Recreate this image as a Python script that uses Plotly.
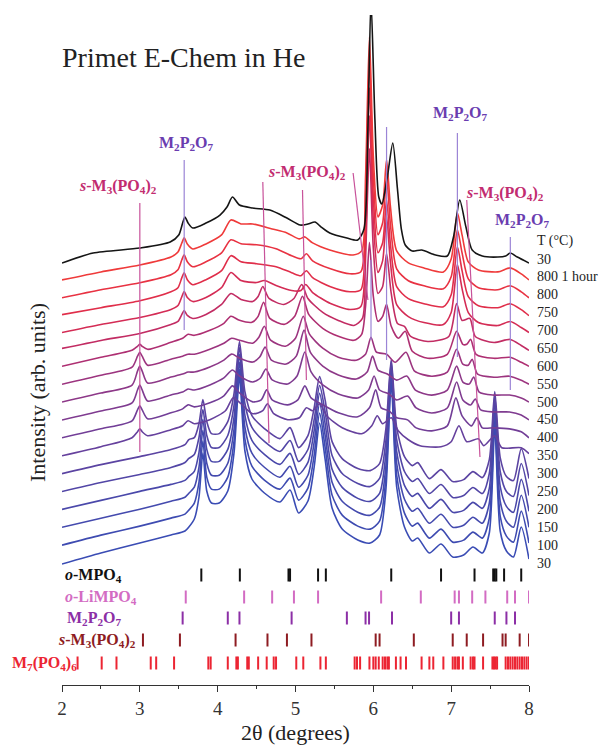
import plotly.graph_objects as go

# ---------------- data ----------------
temps = ["30", "100", "150", "200", "250", "300", "350", "400", "450", "500",
         "550", "600", "650", "700", "750", "800", "800 1 hour", "30"]

# each pattern: (2theta, intensity above its own baseline, arb. units)
p030 = [(2.00,-1),(2.50,10),(3.00,20),(3.40,28),(3.58,32),(3.63,36),(3.70,44),(3.76,66),(3.81,110),(3.86,72),(3.92,60),(4.02,60),(4.13,72),(4.21,110),(4.28,186),(4.35,112),(4.44,84),(4.60,70),(4.80,61),(4.93,73),(5.04,50),(5.16,62),(5.24,96),(5.31,140),(5.38,104),(5.47,55),(5.60,34),(5.80,23),(5.96,20),(6.08,28),(6.16,72),(6.23,180),(6.30,76),(6.40,36),(6.50,22),(6.57,25),(6.72,10),(6.87,19),(7.02,6),(7.16,8),(7.28,16),(7.40,10),(7.49,30),(7.56,135),(7.63,32),(7.71,12),(7.80,6),(7.90,36),(8.00,4)]
p100 = [(2.00,0),(2.50,10),(3.00,19),(3.40,27),(3.58,31),(3.63,35),(3.70,42),(3.76,63),(3.81,104),(3.86,68),(3.92,56),(4.02,56),(4.13,68),(4.21,104),(4.28,176),(4.35,106),(4.44,79),(4.60,65),(4.80,56),(4.93,67),(5.04,45),(5.16,57),(5.24,90),(5.31,132),(5.38,98),(5.47,50),(5.60,30),(5.80,19),(5.96,16),(6.08,24),(6.16,66),(6.23,168),(6.30,70),(6.40,32),(6.50,19),(6.57,22),(6.72,7),(6.87,16),(7.02,3),(7.16,5),(7.28,13),(7.40,7),(7.49,27),(7.56,126),(7.63,29),(7.71,9),(7.80,3),(7.90,34),(8.00,2)]
p150 = [(2.00,0),(2.50,9),(3.00,18),(3.40,26),(3.58,30),(3.63,34),(3.70,40),(3.76,60),(3.81,97),(3.86,64),(3.92,52),(4.02,52),(4.13,64),(4.21,98),(4.28,165),(4.35,100),(4.44,74),(4.60,60),(4.80,50),(4.93,61),(5.04,40),(5.16,52),(5.24,85),(5.31,124),(5.38,92),(5.47,45),(5.60,26),(5.80,15),(5.96,12),(6.08,20),(6.16,60),(6.23,156),(6.30,64),(6.40,28),(6.50,16),(6.57,19),(6.72,4),(6.87,13),(7.02,0),(7.16,2),(7.28,10),(7.40,4),(7.49,24),(7.56,117),(7.63,26),(7.71,6),(7.80,0),(7.90,32),(8.00,0)]
p200 = [(2.00,0),(2.50,9),(3.00,18),(3.40,25),(3.58,29),(3.63,33),(3.70,38),(3.76,57),(3.81,90),(3.86,60),(3.92,48),(4.02,48),(4.13,60),(4.21,92),(4.28,155),(4.35,94),(4.44,69),(4.60,55),(4.80,45),(4.93,56),(5.04,35),(5.16,47),(5.24,79),(5.31,116),(5.38,86),(5.47,40),(5.60,22),(5.80,11),(5.96,8),(6.08,16),(6.16,55),(6.23,144),(6.30,58),(6.40,24),(6.50,13),(6.57,16),(6.72,1),(6.87,10),(7.02,-3),(7.16,-1),(7.28,7),(7.40,1),(7.49,21),(7.56,108),(7.63,23),(7.71,3),(7.80,-3),(7.90,30),(8.00,-2)]
p250 = [(2.00,0),(2.50,9),(3.00,17),(3.40,24),(3.58,29),(3.63,33),(3.70,37),(3.76,54),(3.81,82),(3.86,56),(3.92,44),(4.02,44),(4.13,56),(4.21,86),(4.28,144),(4.35,88),(4.44,64),(4.60,50),(4.80,40),(4.93,51),(5.04,30),(5.16,42),(5.24,72),(5.31,106),(5.38,80),(5.47,36),(5.60,18),(5.80,8),(5.96,5),(6.08,13),(6.16,50),(6.23,130),(6.30,52),(6.40,20),(6.50,10),(6.57,13),(6.72,-2),(6.87,7),(7.02,-6),(7.16,-4),(7.28,4),(7.40,-2),(7.49,18),(7.56,96),(7.63,20),(7.71,0),(7.80,-5),(7.90,28),(8.00,-4)]
p300 = [(2.00,0),(2.50,9),(3.00,17),(3.40,24),(3.58,29),(3.63,34),(3.70,36),(3.76,50),(3.81,74),(3.86,52),(3.92,40),(4.02,40),(4.13,52),(4.21,80),(4.28,132),(4.35,82),(4.44,58),(4.60,45),(4.80,35),(4.93,46),(5.04,26),(5.16,38),(5.24,66),(5.31,97),(5.38,74),(5.47,32),(5.60,15),(5.80,5),(5.96,3),(6.08,10),(6.16,44),(6.23,114),(6.30,46),(6.40,17),(6.50,8),(6.57,11),(6.72,-5),(6.87,4),(7.02,-8),(7.16,-6),(7.28,2),(7.40,-4),(7.49,14),(7.56,82),(7.63,16),(7.71,-3),(7.80,-7),(7.90,25),(8.00,-5)]
p350 = [(2.00,0),(2.50,9),(2.90,18),(2.97,24),(3.00,27),(3.03,24),(3.10,20),(3.40,26),(3.55,30),(3.62,35),(3.70,32),(3.90,36),(4.10,45),(4.20,58),(4.30,52),(4.45,42),(4.58,45),(4.64,52),(4.72,42),(4.90,36),(5.05,38),(5.14,48),(5.22,45),(5.31,52),(5.40,40),(5.60,28),(5.85,22),(5.98,30),(6.05,40),(6.12,32),(6.23,38),(6.32,25),(6.45,16),(6.60,10),(6.87,9),(7.00,14),(7.10,30),(7.20,14),(7.35,17),(7.42,10),(7.56,20),(7.65,8),(7.90,8),(8.00,2)]
p400 = [(2.00,0),(2.50,9),(2.90,17),(2.97,28),(3.00,32),(3.03,28),(3.10,19),(3.40,25),(3.55,29),(3.62,33),(3.70,31),(3.90,35),(4.08,42),(4.19,52),(4.28,45),(4.45,36),(4.56,38),(4.63,48),(4.70,38),(4.90,33),(5.03,38),(5.12,52),(5.20,40),(5.35,33),(5.55,25),(5.80,21),(5.95,30),(6.03,48),(6.10,30),(6.20,27),(6.30,20),(6.44,18),(6.55,10),(6.75,7),(6.95,12),(7.06,40),(7.14,22),(7.26,12),(7.33,20),(7.40,10),(7.55,10),(7.75,9),(7.90,6),(8.00,0)]
p450 = [(2.00,0),(2.50,9),(2.90,17),(2.97,30),(3.00,35),(3.03,30),(3.10,19),(3.40,25),(3.55,28),(3.62,31),(3.70,30),(3.90,35),(4.08,42),(4.19,50),(4.28,44),(4.45,38),(4.55,42),(4.62,51),(4.70,40),(4.90,36),(5.02,44),(5.12,68),(5.20,48),(5.35,35),(5.55,26),(5.80,22),(5.94,30),(6.01,44),(6.08,30),(6.20,26),(6.30,20),(6.44,24),(6.55,12),(6.75,7),(6.95,12),(7.07,38),(7.15,20),(7.25,15),(7.31,21),(7.38,10),(7.55,8),(7.75,8),(7.90,5),(8.00,0)]
p500 = [(2.00,0),(2.50,9),(2.90,17),(2.97,31),(3.00,36),(3.03,31),(3.10,19),(3.40,25),(3.55,28),(3.62,30),(3.70,30),(3.90,35),(4.08,42),(4.18,48),(4.28,44),(4.45,40),(4.54,45),(4.61,55),(4.69,42),(4.88,38),(5.01,46),(5.11,72),(5.19,50),(5.35,36),(5.55,27),(5.78,23),(5.92,30),(5.99,46),(6.06,32),(6.18,28),(6.30,22),(6.43,26),(6.54,12),(6.75,7),(6.95,12),(7.07,36),(7.15,20),(7.23,18),(7.29,25),(7.36,10),(7.55,7),(7.75,7),(7.90,4),(8.00,0)]
p550 = [(2.00,0),(2.50,9),(2.90,17),(2.97,28),(3.00,32),(3.03,28),(3.10,19),(3.40,25),(3.55,28),(3.62,30),(3.70,30),(3.90,35),(4.08,41),(4.18,46),(4.28,44),(4.45,41),(4.53,47),(4.60,58),(4.68,44),(4.87,38),(5.00,46),(5.10,68),(5.18,50),(5.35,36),(5.55,27),(5.78,24),(5.90,30),(5.97,47),(6.04,32),(6.17,30),(6.28,22),(6.42,32),(6.53,13),(6.75,8),(6.95,12),(7.07,35),(7.15,20),(7.22,19),(7.27,25),(7.34,10),(7.55,7),(7.75,8),(7.90,4),(8.00,0)]
p600 = [(2.00,0),(2.50,9),(2.90,16),(2.97,20),(3.00,22),(3.03,20),(3.10,17),(3.40,24),(3.55,28),(3.62,32),(3.70,31),(3.90,36),(4.08,43),(4.17,50),(4.28,46),(4.44,44),(4.52,50),(4.59,64),(4.67,48),(4.86,42),(4.99,50),(5.09,70),(5.17,52),(5.35,38),(5.55,30),(5.75,26),(5.85,32),(5.90,60),(5.95,124),(6.00,70),(6.06,45),(6.12,50),(6.17,62),(6.23,40),(6.32,28),(6.41,35),(6.50,15),(6.70,8),(6.95,12),(7.07,35),(7.15,22),(7.20,22),(7.25,27),(7.32,12),(7.55,8),(7.76,9),(7.90,4),(8.00,0)]
p650 = [(2.00,0),(2.50,8),(3.00,15),(3.40,24),(3.49,27),(3.54,34),(3.57,38),(3.61,33),(3.68,30),(3.85,34),(4.05,44),(4.17,55),(4.30,49),(4.45,47),(4.52,52),(4.58,62),(4.66,50),(4.85,44),(4.98,50),(5.08,64),(5.16,50),(5.35,36),(5.55,28),(5.75,23),(5.86,30),(5.90,90),(5.95,200),(6.00,100),(6.06,55),(6.12,62),(6.17,95),(6.23,55),(6.31,25),(6.40,22),(6.48,12),(6.70,7),(6.97,12),(7.07,45),(7.14,28),(7.24,30),(7.31,12),(7.55,6),(7.76,9),(7.90,3),(8.00,-2)]
p700 = [(2.00,-2),(2.50,6),(3.00,13),(3.40,21),(3.49,25),(3.54,34),(3.57,39),(3.61,33),(3.68,29),(3.85,33),(4.05,43),(4.17,58),(4.30,50),(4.50,48),(4.60,50),(4.75,45),(4.95,40),(5.07,40),(5.13,46),(5.22,38),(5.45,27),(5.70,21),(5.84,24),(5.90,90),(5.95,215),(6.00,110),(6.06,58),(6.12,70),(6.17,114),(6.22,68),(6.30,26),(6.45,14),(6.65,8),(6.90,6),(7.00,18),(7.08,66),(7.14,42),(7.22,18),(7.35,8),(7.60,5),(7.76,9),(7.90,3),(8.00,-2)]
p750 = [(2.00,-2),(2.50,5),(3.00,12),(3.40,21),(3.49,25),(3.54,35),(3.57,40),(3.61,33),(3.68,28),(3.85,33),(4.05,42),(4.17,57),(4.30,51),(4.50,49),(4.75,46),(4.95,40),(5.07,37),(5.14,42),(5.22,35),(5.45,26),(5.70,21),(5.84,23),(5.90,95),(5.95,225),(6.00,115),(6.06,60),(6.12,70),(6.17,113),(6.22,68),(6.30,26),(6.45,14),(6.65,9),(6.90,6),(7.00,18),(7.08,66),(7.14,42),(7.22,16),(7.35,7),(7.60,5),(7.76,9),(7.90,3),(8.00,-3)]
p800 = [(2.00,-3),(2.50,5),(3.00,12),(3.40,20),(3.49,25),(3.54,35),(3.57,40),(3.61,33),(3.68,28),(3.85,33),(4.05,42),(4.17,55),(4.30,51),(4.50,50),(4.75,46),(4.95,39),(5.07,36),(5.14,41),(5.22,34),(5.45,26),(5.70,21),(5.84,23),(5.90,100),(5.95,235),(6.00,118),(6.06,60),(6.12,72),(6.17,118),(6.22,70),(6.30,26),(6.45,14),(6.65,9),(6.90,6),(7.00,18),(7.08,65),(7.14,42),(7.22,16),(7.35,7),(7.60,5),(7.76,9),(7.90,3),(8.00,-3)]
p800h = [(2.00,-3),(2.50,5),(3.00,12),(3.40,20),(3.49,25),(3.54,34),(3.57,39),(3.61,33),(3.68,28),(3.85,33),(4.05,42),(4.17,57),(4.30,53),(4.45,53),(4.70,48),(4.89,44),(5.05,38),(5.12,40),(5.22,34),(5.44,27),(5.74,22),(5.85,26),(5.90,100),(5.95,240),(6.00,120),(6.06,60),(6.12,72),(6.17,117),(6.22,70),(6.30,26),(6.45,14),(6.65,9),(6.90,5),(7.00,18),(7.08,64),(7.14,42),(7.22,15),(7.35,7),(7.60,5),(7.76,9),(7.90,3),(8.00,-3)]
p030b = [(2.00,-4),(2.40,6),(3.00,11),(3.39,17),(3.50,24),(3.55,36),(3.58,42),(3.62,36),(3.68,31),(3.85,36),(4.03,44),(4.12,52),(4.19,62),(4.28,54),(4.45,51),(4.67,49),(4.89,41),(5.06,34),(5.16,35),(5.25,37),(5.33,32),(5.44,26),(5.66,21),(5.80,19),(5.88,30),(5.93,130),(5.97,260),(6.02,140),(6.07,62),(6.11,55),(6.18,82),(6.25,116),(6.31,70),(6.36,30),(6.41,14),(6.50,8),(6.62,9),(6.80,4),(6.95,3),(7.03,22),(7.11,59),(7.19,32),(7.27,9),(7.40,3),(7.60,2),(7.70,3),(7.76,6),(7.85,2),(8.00,-4)]

patterns = [p030, p100, p150, p200, p250, p300, p350, p400, p450, p500,
            p550, p600, p650, p700, p750, p800, p800h, p030b]

# reference peak positions (2theta) of each phase
ref_oMPO4 = [3.79, 4.285, 4.91, 4.93, 5.29, 5.39, 6.23, 6.87, 7.30, 7.54, 7.56, 7.58, 7.68, 7.90]
ref_oLiMPO4 = [3.59, 4.34, 4.70, 4.98, 5.29, 6.10, 6.61, 7.045, 7.10, 7.27, 7.44, 7.72, 7.82, 8.00]
ref_M2P2O7 = [3.55, 4.13, 4.28, 4.95, 5.66, 5.90, 5.945, 6.24, 7.00, 7.10, 7.56, 7.71, 7.82]
ref_sM3 = [3.04, 3.515, 4.23, 4.64, 4.89, 5.205, 6.03, 6.08, 6.52, 7.02, 7.20, 7.41, 7.66, 7.70, 7.88, 8.00]
ref_M7 = [2.20, 2.51, 2.70, 3.14, 3.21, 3.44, 3.88, 3.91, 4.13, 4.24, 4.26, 4.38, 4.40, 4.52, 4.63,
          4.72, 4.75, 5.01, 5.10, 5.32, 5.39, 5.76, 5.79, 5.83, 5.95, 6.00, 6.03, 6.07, 6.12, 6.15,
          6.18, 6.20, 6.29, 6.35, 6.42, 6.62, 6.72, 6.77, 6.90, 7.02, 7.05, 7.08, 7.10, 7.15, 7.25,
          7.28, 7.30, 7.41, 7.53, 7.55, 7.57, 7.59, 7.70, 7.73, 7.76, 7.79, 7.82, 7.85, 7.88, 7.91,
          7.94, 7.97, 8.00]

# phase-marker guide lines on the patterns: (phase, x top, y top, x bottom, y bottom)
guides = [("s", 3.00, 482, 3.00, 233), ("m", 3.57, 525, 3.57, 355),
          ("s", 4.58, 503, 4.66, 242), ("s", 5.09, 495, 5.14, 305), ("s", 5.74, 512, 5.93, 385),
          ("m", 5.97, 425, 5.97, 345), ("m", 6.17, 558, 6.17, 325),
          ("m", 7.08, 552, 7.08, 328), ("s", 7.20, 485, 7.37, 228), ("m", 7.76, 448, 7.76, 295)]

# ---------------- styling ----------------
colors = ["#3a4cb4", "#3e4bb1", "#444aae", "#4a48aa", "#5246a6", "#5b44a2",
          "#66419d", "#723e97", "#7f3b90", "#8d3888", "#9c347f", "#ae2f72",
          "#c22c63", "#d42c55", "#e02e4a", "#e83242", "#ef3a3a", "#151515"]
SERIF = "'Liberation Serif', 'Times New Roman', Times, serif"
base0, step = 122, 17.88

fig = go.Figure()
for i, (pts, col) in enumerate(zip(patterns, colors)):
    fig.add_trace(go.Scatter(
        x=[p[0] for p in pts], y=[base0 + step * i + p[1] for p in pts],
        mode="lines", line=dict(color=col, width=1.6, shape="spline", smoothing=0.7),
        hoverinfo="skip", showlegend=False))

gcol = {"s": "#c8529a", "m": "#9b84d6"}
for ph, x0, y0, x1, y1 in guides:
    fig.add_shape(type="line", x0=x0, y0=y0, x1=x1, y1=y1, xref="x", yref="y",
                  line=dict(color=gcol[ph], width=1.2), layer="above")

rows = [("<b><i>o</i>-MPO<sub>4</sub></b>", ref_oMPO4, "#111111", 110, 2.01),
        ("<b><i>o</i>-LiMPO<sub>4</sub></b>", ref_oLiMPO4, "#d36cc3", 88, 2.01),
        ("<b>M<sub>2</sub>P<sub>2</sub>O<sub>7</sub></b>", ref_M2P2O7, "#8c2fa6", 67, 2.04),
        ("<b><i>s</i>-M<sub>3</sub>(PO<sub>4</sub>)<sub>2</sub></b>", ref_sM3, "#8e1c22", 45, 1.92),
        ("<b>M<sub>7</sub>(PO<sub>4</sub>)<sub>6</sub></b>", ref_M7, "#ec2533", 22, 1.33)]
for label, refs, col, yc, lx in rows:
    xs, ys = [], []
    for p in refs:
        xs += [p, p, None]
        ys += [yc - 6.5, yc + 6.5, None]
    fig.add_trace(go.Scatter(x=xs, y=ys, mode="lines", line=dict(color=col, width=2),
                             hoverinfo="skip", showlegend=False))
    fig.add_annotation(x=(lx - 2) / 6, xref="paper", y=yc, yref="y", text=label,
                       showarrow=False, xanchor="left", yanchor="middle",
                       font=dict(family=SERIF, size=16, color=col))

for i, t in enumerate(temps):
    fig.add_annotation(x=1.012, xref="paper", y=base0 + step * i, yref="y", text=t,
                       showarrow=False, xanchor="left", yanchor="middle",
                       font=dict(family=SERIF, size=14, color="#222"))
fig.add_annotation(x=1.012, xref="paper", y=444, yref="y", text="T (°C)", showarrow=False,
                   xanchor="left", yanchor="middle", font=dict(family=SERIF, size=14, color="#222"))

sM3 = "<b><i>s</i>-M<sub>3</sub>(PO<sub>4</sub>)<sub>2</sub></b>"
m2 = "<b>M<sub>2</sub>P<sub>2</sub>O<sub>7</sub></b>"
for txt, x, y, c in [(sM3, 2.72, 499, "#c22c70"), (m2, 3.60, 542, "#6a3db0"),
                     (sM3, 5.15, 513, "#c22c70"), (m2, 7.12, 572, "#6a3db0"),
                     (sM3, 7.69, 492, "#c22c70"), (m2, 7.92, 465, "#6a3db0")]:
    fig.add_annotation(x=x, y=y, xref="x", yref="y", text=txt, showarrow=False,
                       xanchor="center", yanchor="middle",
                       font=dict(family=SERIF, size=16, color=c))

fig.add_annotation(x=-0.004, xref="paper", y=0.937, yref="paper", text="Primet E-Chem in He",
                   showarrow=False, xanchor="left", yanchor="middle",
                   font=dict(family=SERIF, size=28, color="#222"))
fig.add_annotation(x=-0.051, xref="paper", y=0.436, yref="paper", text="Intensity (arb. units)",
                   textangle=-90, showarrow=False, xanchor="center", yanchor="middle",
                   font=dict(family=SERIF, size=22, color="#222"))
fig.add_annotation(x=0.501, xref="paper", y=-0.0716, yref="paper", text="2θ (degrees)",
                   showarrow=False, xanchor="center", yanchor="middle",
                   font=dict(family=SERIF, size=22, color="#222"))

fig.update_layout(
    width=601, height=745, margin=dict(l=62, r=72, t=15, b=60),
    plot_bgcolor="white", paper_bgcolor="white", showlegend=False,
    font=dict(family=SERIF),
    xaxis=dict(range=[2, 8], tickvals=[2, 3, 4, 5, 6, 7, 8], ticks="outside", ticklen=6,
               tickwidth=1.3, tickcolor="#333", showline=True, linecolor="#333", linewidth=1.3,
               showgrid=False, zeroline=False,
               tickfont=dict(family=SERIF, size=19, color="#333"),
               minor=dict(ticks="outside", ticklen=3, dtick=0.5, tickcolor="#333", showgrid=False)),
    yaxis=dict(range=[0, 670], visible=False),
)

fig.write_html("out.html")
